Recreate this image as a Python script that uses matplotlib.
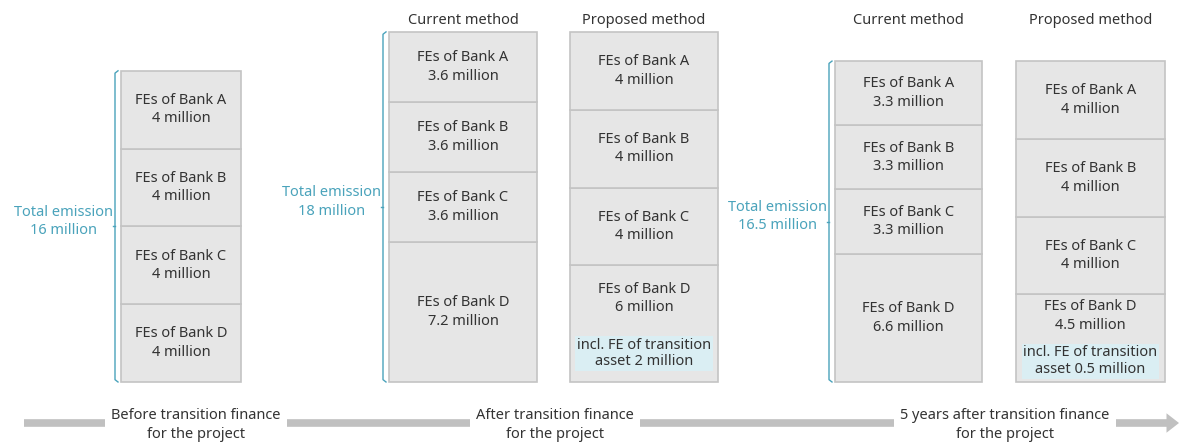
import matplotlib
matplotlib.use("Agg")
import matplotlib.pyplot as plt

plt.rcParams['font.family'] = ['Noto Sans', 'DejaVu Sans']

# ---- data ----
banks = ['A', 'B', 'C', 'D']
col_headers = ['', 'Current method', 'Proposed method', 'Current method', 'Proposed method']
col_values = [
    [4, 4, 4, 4],          # before transition finance
    [3.6, 3.6, 3.6, 7.2],  # after, current method
    [4, 4, 4, 6],          # after, proposed method
    [3.3, 3.3, 3.3, 6.6],  # 5 years after, current method
    [4, 4, 4, 4.5],        # 5 years after, proposed method
]
transition_asset = [None, None, 2, None, 0.5]   # incl. FE of transition asset
totals = [16, 18, 16.5]
total_cols = [0, 1, 3]   # which column carries the total brace
stage_labels = ['Before transition finance\nfor the project',
                'After transition finance\nfor the project',
                '5 years after transition finance\nfor the project']

# ---- layout (pixel-ish x coordinates, y in millions) ----
W, H = 1181, 447
S = 19.45         # pixels per million
base_px = 65      # baseline distance from bottom
col_left = [121, 389, 570, 835, 1016]
col_width = [120, 148, 148, 147, 149]
note_offsets = [None, None, (25, -30), None, (22, -23)]  # (main text, note) in px
stage_x = [196, 555, 1005]

CELL = '#e6e6e6'
EDGE = '#c4c4c4'
TEAL = '#4aa3bb'
TXT = '#333333'
NOTE = '#daeef3'
FS = 10.5
LS = 1.32


def py(p_from_top):
    return (H - p_from_top - base_px) / S


fig = plt.figure(figsize=(W / 100, H / 100), dpi=100)
ax = fig.add_axes([0, 0, 1, 1])
ax.set_xlim(0, W)
ax.set_ylim(-base_px / S, (H - base_px) / S)
ax.axis('off')

for i, vals in enumerate(col_values):
    x0, w = col_left[i], col_width[i]
    bottom = 0
    # draw from bottom (D) upwards to A
    for bank, v in reversed(list(zip(banks, vals))):
        ax.bar(x0, v, width=w, bottom=bottom, align='edge',
               color=CELL, edgecolor=EDGE, linewidth=1.2)
        cx, cy = x0 + w / 2, bottom + v / 2
        label = f'FEs of Bank {bank}\n{v:g} million'
        if bank == 'D' and transition_asset[i] is not None:
            off_main, off_note = note_offsets[i]
            ax.annotate(label, (cx, cy), xytext=(0, off_main), textcoords='offset pixels',
                        ha='center', va='center', fontsize=FS, color=TXT, linespacing=LS)
            ax.annotate(f'incl. FE of transition\nasset {transition_asset[i]:g} million',
                        (cx, cy), xytext=(0, off_note), textcoords='offset pixels',
                        ha='center', va='center', fontsize=FS, color=TXT, linespacing=1.15,
                        bbox=dict(boxstyle='square,pad=0.12', fc=NOTE, ec='none'))
        else:
            ax.text(cx, cy, label, ha='center', va='center', fontsize=FS, color=TXT,
                    linespacing=LS)
        bottom += v
    if col_headers[i]:
        ax.text(x0 + w / 2, py(20), col_headers[i], ha='center', va='center',
                fontsize=FS, color=TXT)

# total emission braces
for tot, ci in zip(totals, total_cols):
    bx = col_left[ci] - 6
    top = sum(col_values[ci])
    ax.plot([bx + 3, bx, bx, bx + 3], [top, top - 0.12, 0.12, 0], color=TEAL, lw=1.0)
    ax.plot([bx, bx - 2.5], [top / 2, top / 2], color=TEAL, lw=1.0)
    ax.text(bx - 2, top / 2 + 0.25, f'Total emission\n{tot:g} million', ha='right',
            va='center', multialignment='center', fontsize=FS, color=TEAL,
            linespacing=LS)

# timeline arrow
ax.annotate('', xy=(1179, py(423)), xytext=(24, py(423)),
            arrowprops=dict(arrowstyle='simple,head_length=0.9,head_width=1.4,tail_width=0.55',
                            color='#c0c0c0', lw=0, shrinkA=0, shrinkB=0))
for sx, lab in zip(stage_x, stage_labels):
    ax.text(sx, py(425), lab, ha='center', va='center', fontsize=FS, color=TXT,
            linespacing=1.3,
            bbox=dict(boxstyle='square,pad=0.4', fc='white', ec='none'))

fig.savefig('out.png', dpi=100)
